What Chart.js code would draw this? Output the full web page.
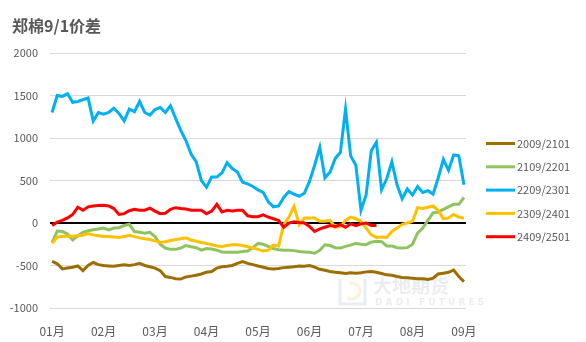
<!DOCTYPE html>
<html>
<head>
<meta charset="utf-8">
<script src="https://cdn.jsdelivr.net/npm/chart.js@4.4.1/dist/chart.umd.min.js"></script>
<style>
  body { margin: 0; background: #fff; }
  #box { width: 586px; height: 342px; }
</style>
</head>
<body>
<div id="box"><canvas id="spread"></canvas></div>
<script>
const monthLabels = ['01月', '02月', '03月', '04月', '05月', '06月', '07月', '08月', '09月'];
const yTicks = [2000, 1500, 1000, 500, 0, -500, -1000];

// one reading every 0.1 month, Jan 1 to Sep 1
const spread2009 = [
  -450, -480, -540, -530, -520, -505, -560, -500, -465, -490,
  -500, -505, -510, -500, -490, -500, -490, -475, -500, -515,
  -530, -560, -630, -640, -655, -660, -635, -625, -615, -600,
  -580, -570, -530, -515, -510, -500, -475, -455, -475, -490,
  -505, -520, -535, -540, -535, -525, -520, -515, -505, -510,
  -500, -520, -545, -555, -570, -580, -585, -595, -585, -590,
  -585, -575, -570, -580, -595, -610, -615, -630, -640, -645,
  -650, -655, -655, -665, -650, -600, -590, -580, -555, -630,
  -690
];
const spread2109 = [
  -230, -95, -100, -130, -200, -150, -110, -90, -80, -70,
  -60, -80, -60, -55, -30, -15, -100, -110, -120, -110,
  -160, -250, -295, -310, -310, -295, -265, -280, -290, -320,
  -300, -305, -320, -340, -345, -345, -345, -335, -330, -290,
  -240, -250, -275, -300, -315, -320, -320, -325, -335, -340,
  -345, -355, -320, -256, -265, -290, -295, -275, -260, -240,
  -250, -255, -225, -215, -220, -270, -270, -290, -295, -290,
  -250, -120, -60, 30, 120, 130, 160, 190, 220, 220,
  300
];
const spread2209 = [
  1300, 1500, 1490, 1520, 1420, 1430, 1450, 1470, 1200, 1300,
  1280, 1300, 1350, 1290, 1200, 1340, 1310, 1430, 1300, 1270,
  1335, 1360, 1300, 1380, 1230, 1090, 970, 810, 720, 500,
  420, 540, 540, 590, 710, 640, 600, 480, 460, 430,
  390, 360, 250, 190, 200, 300, 370, 340, 315, 350,
  490, 680, 890, 530, 600, 760, 830, 1340, 790, 680,
  150, 330, 850, 950, 390, 520, 720, 450, 285, 400,
  330, 430, 360, 380, 340, 530, 750, 620, 800, 790,
  450
];
const spread2309 = [
  -240, -165, -160, -155, -155, -150, -145, -125, -140, -150,
  -160, -160, -165, -170, -160, -145, -160, -175, -185, -195,
  -210, -225, -220, -205, -195, -185, -175, -200, -215, -230,
  -240, -255, -270, -275, -265, -255, -255, -265, -280, -295,
  -310, -330, -320, -260, -270, -20, 70, 195, -20, 60,
  60, 60, 20, 20, 30, -50, -40, 30, 70, 50,
  20, -60, -140, -170, -165, -170, -100, -60, -15, 0,
  20, 180, 170, 185, 200, 150, 50, 60, 100, 70,
  55
];
const spread2409 = [
  -30, 10, 30, 60, 100, 185, 150, 190, 200, 205,
  210, 200, 170, 100, 110, 145, 160, 150, 150, 175,
  140, 110, 115, 160, 180, 170, 165, 150, 150, 150,
  110, 140, 220, 130, 150, 140, 150, 150, 85, 75,
  75, 95, 70, 50, 30, -50, 0, 15, 5, 0,
  -40, -100, -70, -50, -30, -40, -20, -50, -10, -30,
  -10, 0, -30, -30, null, null, null, null, null, null,
  null, null, null, null, null, null, null, null, null, null,
  null
];

const seriesNames = ['2009/2101', '2109/2201', '2209/2301', '2309/2401', '2409/2501'];
const seriesColors = ['#9C6E00', '#8DC45E', '#00B0F0', '#FFC000', '#FF0000'];
const seriesValues = [spread2009, spread2109, spread2209, spread2309, spread2409];

const monthPos = spread2009.map((_, i) => i / 10);

const datasets = seriesValues.map((vals, k) => ({
  label: seriesNames[k],
  data: vals.map((v, i) => ({ x: monthPos[i], y: v })),
  borderColor: seriesColors[k],
  backgroundColor: seriesColors[k],
  borderWidth: 3,
  pointRadius: 0,
  tension: 0,
  spanGaps: false,
  order: seriesValues.length - k
}));

const txtGray = '#595959';
const cjk = '"Noto Sans CJK SC", "Noto Sans", sans-serif';

const decor = {
  id: 'decor',
  beforeDatasetsDraw(chart) {
    // faint company mark under the lines
    const c = chart.ctx;
    c.save();
    c.strokeStyle = 'rgba(175,200,230,0.3)';
    c.lineWidth = 3;
    c.beginPath();
    c.moveTo(340, 279); c.lineTo(340, 304); c.lineTo(365, 304); c.lineTo(365, 279);
    c.stroke();
    c.strokeStyle = 'rgba(250,215,140,0.35)';
    c.beginPath();
    c.arc(352, 291, 8, -Math.PI * 0.6, Math.PI * 0.7);
    c.stroke();
    c.fillStyle = 'rgba(205,208,216,0.4)';
    c.font = 'bold 19px ' + cjk;
    c.textBaseline = 'alphabetic';
    c.fillText('大地期货', 373, 293);
    c.font = 'bold 9px "DejaVu Sans", sans-serif';
    c.fillText('D A D I   F U T U R E S', 375, 305);
    c.restore();
  },
  afterDraw(chart) {
    const c = chart.ctx;
    c.save();
    c.fillStyle = txtGray;
    c.font = 'bold 16px ' + cjk;
    c.textBaseline = 'alphabetic';
    c.fillText('郑棉9/1价差', 12, 32);

    c.font = '11px ' + cjk;
    c.textBaseline = 'middle';
    chart.data.datasets.forEach((ds, i) => {
      const y = 143.5 + i * 23.3;
      c.strokeStyle = ds.borderColor;
      c.lineWidth = 3;
      c.beginPath();
      c.moveTo(486, y);
      c.lineTo(515, y);
      c.stroke();
      c.fillStyle = txtGray;
      c.fillText(ds.label, 517, y);
    });
    c.restore();
  }
};

new Chart(document.getElementById('spread'), {
  type: 'line',
  data: { datasets: datasets },
  options: {
    responsive: true,
    maintainAspectRatio: false,
    animation: false,
    layout: { padding: { left: 0, right: 120, top: 53, bottom: 0 } },
    plugins: {
      legend: { display: false },
      title: { display: false },
      tooltip: { enabled: false }
    },
    scales: {
      x: {
        type: 'linear',
        min: -0.04,
        max: 8.04,
        afterBuildTicks: (scale) => {
          scale.ticks = monthLabels.map((_, i) => ({ value: i }));
        },
        afterFit: (scale) => { scale.height = 34; },
        grid: { display: false },
        border: { display: false },
        ticks: {
          autoSkip: false,
          maxRotation: 0,
          padding: 8,
          color: txtGray,
          font: { family: cjk, size: 12 },
          callback: (v) => monthLabels[v]
        }
      },
      y: {
        min: -1000,
        max: 2000,
        afterBuildTicks: (scale) => {
          scale.ticks = yTicks.map(v => ({ value: v }));
        },
        afterFit: (scale) => { scale.width = 50; },
        border: { display: false },
        grid: {
          drawTicks: false,
          color: (ctx) => ctx.tick.value === 0 ? '#000000' : '#D9D9D9',
          lineWidth: (ctx) => ctx.tick.value === 0 ? 2 : 1
        },
        ticks: {
          padding: 12,
          color: txtGray,
          font: { family: cjk, size: 11 },
          callback: (v) => String(v)
        }
      }
    }
  },
  plugins: [decor]
});
</script>
</body>
</html>
